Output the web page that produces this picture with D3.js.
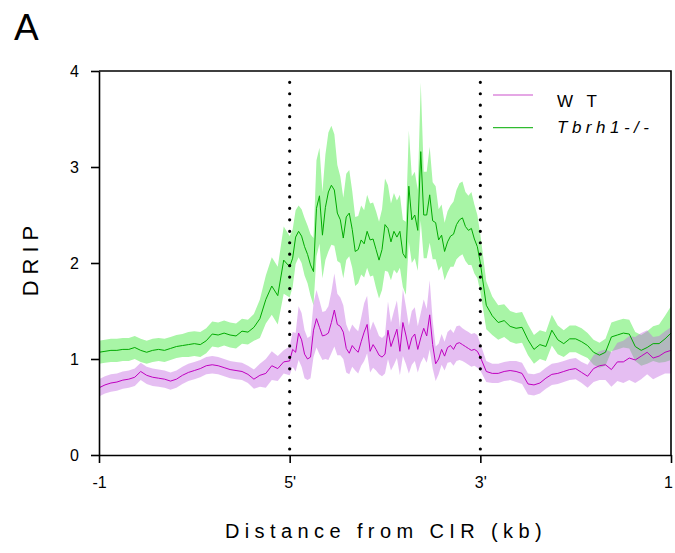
<!DOCTYPE html>
<html>
<head>
<meta charset="utf-8">
<script src="https://cdn.jsdelivr.net/npm/d3@7"></script>
<style>
  body { margin: 0; background: #fff; }
  svg { font-family: "Liberation Sans", Arial, sans-serif; }
</style>
</head>
<body>
<div id="dataVis"></div>
<script>
// bins per region: upstream (-1 kb .. 5'), scaled body (5' .. 3'), downstream (3' .. +1 kb)
var regionBins = [32, 64, 33];

var xTickLabels = ['-1', "5'", "3'", '1'];
var yTicks = [0, 1, 2, 3, 4];

var seriesNames = ['W T', 'Tbrh1-/-'];

// WT mean DRIP signal
var wtMean = [
    // upstream
    0.70, 0.73, 0.75, 0.76, 0.78, 0.79, 0.81, 0.87, 0.83, 0.81,
    0.80, 0.79, 0.77, 0.79, 0.83, 0.86, 0.88, 0.90, 0.93, 0.94,
    0.93, 0.91, 0.89, 0.88, 0.87, 0.84, 0.79, 0.83, 0.85, 0.93,
    0.90, 0.97,
    // body
    0.98, 1.10, 1.07, 1.27, 1.20, 1.05, 1.00, 1.02, 1.30, 1.42,
    1.33, 1.24, 1.25, 1.27, 1.38, 1.51, 1.36, 1.34, 1.28, 1.11,
    1.06, 1.14, 1.10, 1.07, 1.18, 1.28, 1.36, 1.08, 1.15, 1.10,
    1.04, 1.02, 1.05, 1.30, 1.13, 1.22, 1.31, 1.08, 1.38, 1.25,
    1.10, 1.22, 1.26, 1.10, 1.22, 1.32, 1.24, 1.46, 1.15, 0.95,
    1.00, 1.10, 1.03, 1.12, 1.14, 1.10, 1.16, 1.17, 1.15, 1.13,
    1.11, 1.09, 1.10, 1.08,
    // downstream
    1.02, 0.87, 0.85, 0.85, 0.87, 0.88, 0.87, 0.85, 0.74, 0.73,
    0.75, 0.80, 0.84, 0.85, 0.87, 0.89, 0.90, 0.86, 0.82, 0.90,
    0.93, 0.94, 0.89, 0.97, 0.97, 1.01, 0.99, 1.03, 1.07, 1.01,
    1.03, 1.07, 1.09
];

var wtSem = [
    0.09, 0.09, 0.09, 0.09, 0.09, 0.09, 0.09, 0.09, 0.09, 0.09,
    0.09, 0.09, 0.09, 0.09, 0.09, 0.09, 0.09, 0.09, 0.09, 0.09,
    0.09, 0.09, 0.09, 0.09, 0.09, 0.09, 0.10, 0.12, 0.15, 0.15,
    0.13, 0.12,
    0.15, 0.18, 0.20, 0.28, 0.28, 0.25, 0.22, 0.22, 0.28, 0.30,
    0.28, 0.25, 0.25, 0.28, 0.32, 0.38, 0.32, 0.30, 0.28, 0.25,
    0.22, 0.22, 0.22, 0.22, 0.25, 0.30, 0.30, 0.22, 0.24, 0.22,
    0.20, 0.20, 0.20, 0.30, 0.25, 0.28, 0.30, 0.25, 0.35, 0.30,
    0.25, 0.28, 0.28, 0.24, 0.26, 0.30, 0.28, 0.36, 0.25, 0.18,
    0.16, 0.16, 0.15, 0.16, 0.17, 0.17, 0.18, 0.18, 0.17, 0.17,
    0.17, 0.17, 0.17, 0.17,
    0.14, 0.11, 0.10, 0.10, 0.10, 0.10, 0.11, 0.11, 0.11, 0.11,
    0.11, 0.11, 0.11, 0.11, 0.11, 0.11, 0.11, 0.11, 0.12, 0.14,
    0.15, 0.16, 0.18, 0.20, 0.22, 0.23, 0.24, 0.24, 0.23, 0.22,
    0.21, 0.22, 0.24
];

// Tbrh1-/- mean DRIP signal
var koMean = [
    1.07, 1.08, 1.09, 1.09, 1.10, 1.10, 1.12, 1.09, 1.07, 1.09,
    1.10, 1.09, 1.11, 1.13, 1.14, 1.15, 1.16, 1.15, 1.19, 1.26,
    1.25, 1.27, 1.25, 1.24, 1.29, 1.28, 1.33, 1.42, 1.62, 1.76,
    1.66, 2.03,
    1.96, 2.05, 2.27, 2.33, 2.28, 2.17, 2.09, 1.98, 1.91, 2.57,
    2.70, 2.29, 2.58, 2.74, 2.81, 2.76, 2.52, 2.45, 2.26, 2.48,
    2.52, 2.35, 2.12, 2.14, 2.24, 2.20, 2.33, 2.24, 2.25, 2.14,
    2.03, 2.14, 2.40, 2.36, 2.22, 2.33, 2.27, 2.33, 2.10, 2.05,
    2.80, 2.45, 2.50, 2.34, 3.16, 2.50, 2.50, 2.71, 2.44, 2.42,
    2.24, 2.29, 2.12, 2.22, 2.28, 2.30, 2.40, 2.45, 2.47, 2.38,
    2.34, 2.36, 2.25, 2.17,
    2.00, 1.56, 1.45, 1.38, 1.40, 1.34, 1.32, 1.33, 1.20, 1.10,
    1.15, 1.13, 1.30, 1.20, 1.16, 1.21, 1.21, 1.18, 1.14, 1.07,
    1.04, 1.07, 1.23, 1.25, 1.27, 1.26, 1.13, 1.09, 1.12, 1.16,
    1.16, 1.21, 1.27
];

var koSem = [
    0.12, 0.12, 0.12, 0.12, 0.12, 0.12, 0.12, 0.12, 0.12, 0.12,
    0.12, 0.12, 0.12, 0.12, 0.12, 0.13, 0.13, 0.13, 0.13, 0.13,
    0.13, 0.13, 0.13, 0.13, 0.13, 0.13, 0.14, 0.20, 0.25, 0.30,
    0.30, 0.35,
    0.32, 0.30, 0.28, 0.27, 0.28, 0.30, 0.30, 0.32, 0.35, 0.50,
    0.50, 0.45, 0.55, 0.62, 0.62, 0.58, 0.50, 0.45, 0.42, 0.45,
    0.45, 0.40, 0.36, 0.35, 0.36, 0.35, 0.38, 0.38, 0.38, 0.40,
    0.40, 0.42, 0.48, 0.45, 0.40, 0.40, 0.38, 0.38, 0.35, 0.38,
    0.58, 0.45, 0.45, 0.42, 0.72, 0.45, 0.45, 0.50, 0.40, 0.38,
    0.32, 0.32, 0.30, 0.32, 0.32, 0.34, 0.36, 0.38, 0.38, 0.36,
    0.36, 0.38, 0.36, 0.33,
    0.30, 0.25, 0.20, 0.18, 0.17, 0.16, 0.16, 0.16, 0.16, 0.15,
    0.15, 0.15, 0.16, 0.15, 0.14, 0.14, 0.14, 0.14, 0.13, 0.13,
    0.13, 0.14, 0.15, 0.15, 0.15, 0.15, 0.15, 0.16, 0.17, 0.18,
    0.20, 0.24, 0.28
];


var margin = { top: 71, right: 4, bottom: 98, left: 99 },
    width = 675 - margin.left - margin.right,
    height = 553 - margin.top - margin.bottom;

// bin index -> position on the metagene axis (0..3, one unit per region)
function binPos(i) {
    if (i < regionBins[0]) return i / regionBins[0];
    i -= regionBins[0];
    if (i < regionBins[1]) return 1 + i / regionBins[1];
    i -= regionBins[1];
    return 2 + i / (regionBins[2] - 1);
}

function toRows(mean, sem) {
    return mean.map(function (m, i) {
        return { pos: binPos(i), mean: m, sem: sem[i] };
    });
}

var wtData = toRows(wtMean, wtSem);
var koData = toRows(koMean, koSem);

var svg = d3.select("#dataVis").append("svg")
    .attr("width", 675)
    .attr("height", 553);

var graph = svg.append("g")
    .attr("transform", "translate(" + margin.left + "," + margin.top + ")");

var x = d3.scaleLinear().domain([0, 3]).range([0, width]);
var y = d3.scaleLinear().domain([0, 4]).range([height, 0]);

var area = d3.area()
    .x(function (d) { return x(d.pos); })
    .y0(function (d) { return y(d.mean - d.sem); })
    .y1(function (d) { return y(d.mean + d.sem); });

var line = d3.line()
    .x(function (d) { return x(d.pos); })
    .y(function (d) { return y(d.mean); });

// sem bands, WT drawn translucent on top so overlaps go grey
graph.append("path")
    .attr("d", area(koData))
    .attr("fill", "rgb(168,245,166)");

graph.append("path")
    .attr("d", area(wtData))
    .attr("fill", "rgb(192,100,224)")
    .attr("fill-opacity", 0.42);

// mean lines
graph.append("path")
    .attr("d", line(koData))
    .attr("fill", "none")
    .attr("stroke", "#00aa00")
    .attr("stroke-width", 1);

graph.append("path")
    .attr("d", line(wtData))
    .attr("fill", "none")
    .attr("stroke", "#c000c0")
    .attr("stroke-width", 1);

// dotted 5' / 3' markers
[1, 2].forEach(function (p) {
    graph.append("line")
        .attr("x1", x(p)).attr("x2", x(p))
        .attr("y1", 11.3).attr("y2", height)
        .attr("stroke", "#000")
        .attr("stroke-width", 3.2)
        .attr("stroke-linecap", "round")
        .attr("stroke-dasharray", "0 11.46");
});

// frame top + right
graph.append("path")
    .attr("d", "M0,0H" + width + "V" + height)
    .attr("fill", "none")
    .attr("stroke", "#000")
    .attr("stroke-width", 1.6);

// axes
var xAxisCall = d3.axisBottom(x)
    .tickValues([0, 1, 2, 3])
    .tickFormat(function (d, i) { return xTickLabels[i]; })
    .tickSize(8)
    .tickSizeOuter(0)
    .tickPadding(14);

var yAxisCall = d3.axisLeft(y)
    .tickValues(yTicks)
    .tickFormat(d3.format("d"))
    .tickSize(8)
    .tickSizeOuter(0)
    .tickPadding(12);

var gx = graph.append("g")
    .attr("transform", "translate(0," + height + ")")
    .call(xAxisCall);

var gy = graph.append("g")
    .call(yAxisCall);

[gx, gy].forEach(function (g) {
    g.select(".domain").attr("stroke", "#000").attr("stroke-width", 1.6);
    g.selectAll(".tick line").attr("stroke", "#000").attr("stroke-width", 1.6);
    g.selectAll(".tick text")
        .attr("fill", "#000")
        .style("font-family", '"Liberation Sans", Arial, sans-serif')
        .style("font-size", "16px");
});
// last x label sits right on the page edge, pull it in a little
gx.selectAll(".tick text").filter(function (d) { return d == 3; }).attr("dx", -3);

// axis titles
svg.append("text")
    .attr("x", 386)
    .attr("y", 538)
    .attr("text-anchor", "middle")
    .style("font-size", "20px")
    .style("letter-spacing", "5.4px")
    .text("Distance from CIR (kb)");

svg.append("text")
    .attr("transform", "translate(38,258) rotate(-90)")
    .attr("text-anchor", "middle")
    .style("font-size", "22px")
    .style("letter-spacing", "6px")
    .text("DRIP");

// panel letter
svg.append("text")
    .attr("x", 14)
    .attr("y", 40)
    .style("font-size", "37px")
    .text("A");

// legend
var legend = svg.append("g");
var legendColors = ['#cc50cc', '#30bb30'];
var legendLineY = [95, 127.7];
var legendTextY = [107, 133];

seriesNames.forEach(function (name, i) {
    legend.append("line")
        .attr("x1", 493).attr("x2", 533)
        .attr("y1", legendLineY[i]).attr("y2", legendLineY[i])
        .attr("stroke", legendColors[i])
        .attr("stroke-width", 1.2);

    legend.append("text")
        .attr("x", 557)
        .attr("y", legendTextY[i])
        .style("font-size", "17px")
        .style("letter-spacing", "4.5px")
        .style("font-style", i == 1 ? "italic" : "normal")
        .text(name);
});
</script>
</body>
</html>
